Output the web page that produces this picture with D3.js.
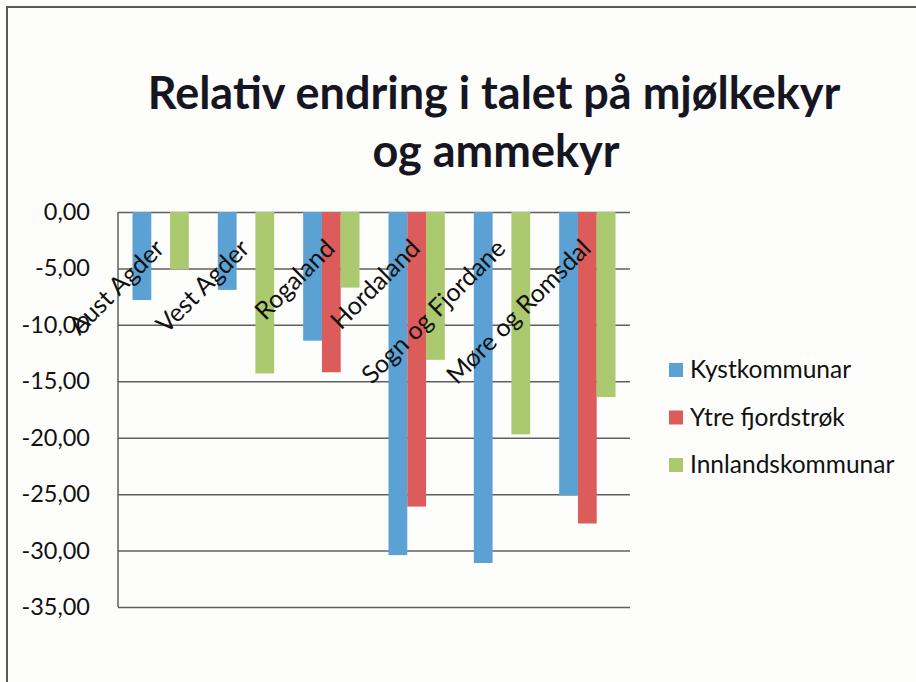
<!DOCTYPE html>
<html>
<head>
<meta charset="utf-8">
<script src="https://cdn.jsdelivr.net/npm/d3@7"></script>
<style>
  body { margin: 0; background: #fdfdfb; }
  text { font-family: Lato, "Noto Sans", sans-serif; fill: #111; }
</style>
</head>
<body>
<div id="chart"></div>
<script>
// data
const regions = ["Aust Agder", "Vest Agder", "Rogaland", "Hordaland", "Sogn og Fjordane", "Møre og Romsdal"];
const seriesNames = ["Kystkommunar", "Ytre fjordstrøk", "Innlandskommunar"];
const kyst = [-7.8, -6.9, -11.4, -30.4, -31.1, -25.1];
const ytre = [null, null, -14.2, -26.1, null, -27.6];
const innland = [-5.1, -14.3, -6.7, -13.1, -19.7, -16.4];
const yTicks = [0, -5, -10, -15, -20, -25, -30, -35];
const colors = ["#5ba1d4", "#dc5c5c", "#abc96f"];

const svgWidth = 916;
const svgHeight = 682;

const margin = { top: 212, right: 286, bottom: 75, left: 118 };
const width = svgWidth - margin.left - margin.right;
const height = svgHeight - margin.top - margin.bottom;

const svg = d3.select("#chart")
  .append("svg")
  .attr("width", svgWidth)
  .attr("height", svgHeight);

// frame of the chart object (left and top edge visible in the scan)
svg.append("path")
  .attr("d", `M7,${svgHeight} V7 H${svgWidth}`)
  .attr("fill", "none")
  .attr("stroke", "#5a5a5a")
  .attr("stroke-width", 2);

// title
const title = svg.append("text")
  .attr("text-anchor", "middle")
  .style("font-weight", "bold")
  .style("font-size", "45px")
  .style("fill", "#161622");
title.append("tspan").attr("x", 494).attr("y", 109).text("Relativ endring i talet på mjølkekyr");
title.append("tspan").attr("x", 496).attr("y", 167).text("og ammekyr");

const chartGroup = svg.append("g")
  .attr("transform", `translate(${margin.left}, ${margin.top})`);

const y = d3.scaleLinear().domain([0, -35]).range([0, height]);

const x0 = d3.scaleBand()
  .domain(regions)
  .range([0, width])
  .paddingInner(0.34)
  .paddingOuter(0.17);

const x1 = d3.scaleBand()
  .domain(seriesNames)
  .range([0, x0.bandwidth()]);

// gridlines
chartGroup.append("g")
  .call(d3.axisLeft(y).tickValues(yTicks).tickSize(-width).tickFormat(""))
  .call(g => g.select(".domain").remove())
  .call(g => g.selectAll("line").attr("stroke", "#5f5f5f").attr("stroke-width", 1.5));

// left axis line
chartGroup.append("line")
  .attr("x1", 0).attr("x2", 0)
  .attr("y1", 0).attr("y2", height)
  .attr("stroke", "#5f5f5f")
  .attr("stroke-width", 1.5);

// tick labels
const fmt = v => d3.format(".2f")(v).replace(".", ",").replace("−", "-");
chartGroup.append("g")
  .call(d3.axisLeft(y).tickValues(yTicks).tickSize(0).tickPadding(28).tickFormat(fmt))
  .call(g => g.select(".domain").remove())
  .call(g => g.selectAll("text").style("font-size", "23.5px").style("font-family", "Lato, sans-serif").attr("fill", "#111"));

// bars
const allSeries = [kyst, ytre, innland];
const barData = [];
regions.forEach((r, i) => {
  allSeries.forEach((s, j) => {
    if (s[i] !== null) barData.push({ region: r, series: seriesNames[j], value: s[i], idx: j });
  });
});

chartGroup.selectAll("rect.bar")
  .data(barData)
  .enter()
  .append("rect")
  .attr("class", "bar")
  .attr("x", d => x0(d.region) + x1(d.series))
  .attr("y", y(0))
  .attr("width", x1.bandwidth())
  .attr("height", d => y(d.value) - y(0))
  .attr("fill", d => colors[d.idx]);

// category labels, rotated, sitting just below the zero line
chartGroup.selectAll("text.cat")
  .data(regions)
  .enter()
  .append("text")
  .attr("class", "cat")
  .attr("text-anchor", "end")
  .style("font-size", "25px")
  .attr("transform", d => `translate(${x0(d) + x0.bandwidth() / 2 + 5}, 38) rotate(-45)`)
  .text(d => d);

// legend
const legend = svg.append("g")
  .attr("transform", "translate(669, 370)");

const items = legend.selectAll("g")
  .data(seriesNames)
  .enter()
  .append("g")
  .attr("transform", (d, i) => `translate(0, ${i * 47.5})`);

items.append("rect")
  .attr("x", 0).attr("y", -7)
  .attr("width", 14).attr("height", 14)
  .attr("fill", (d, i) => colors[i]);

items.append("text")
  .attr("x", 21)
  .attr("y", 8)
  .style("font-size", "24.5px")
  .text(d => d);
</script>
</body>
</html>
